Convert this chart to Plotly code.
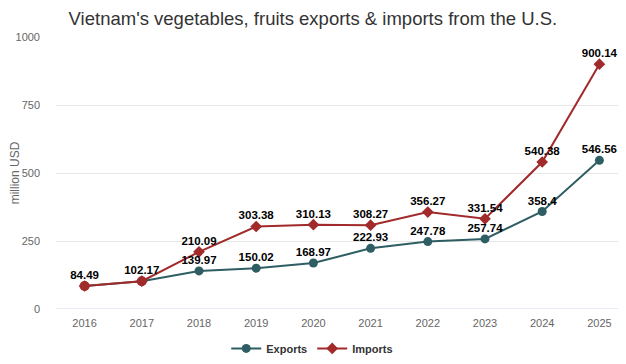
import plotly.graph_objects as go

years = ["2016", "2017", "2018", "2019", "2020", "2021", "2022", "2023", "2024", "2025"]
exports = [84.49, 102.17, 139.97, 150.02, 168.97, 222.93, 247.78, 257.74, 358.4, 546.56]
imports = [84.49, 102.17, 210.09, 303.38, 310.13, 308.27, 356.27, 331.54, 540.38, 900.14]
y_ticks = [0, 250, 500, 750, 1000]

exp_color = "#2e5e63"
imp_color = "#a12a2a"
label_font = dict(family="Liberation Sans, Arial", size=11.5, color="#000000", weight="bold")

exp_text = ["" if e == i else f"{e:g}" for e, i in zip(exports, imports)]
imp_text = [f"{v:g}" for v in imports]
overlap_x = [y for y, e, i in zip(years, exports, imports) if e == i]
overlap_y = [i for e, i in zip(exports, imports) if e == i]

fig = go.Figure()
fig.add_trace(go.Scatter(
    x=years, y=exports, name="Exports", mode="lines+markers",
    line=dict(color=exp_color, width=2),
    marker=dict(color=exp_color, size=9, symbol="circle"),
    cliponaxis=False,
))
fig.add_trace(go.Scatter(
    x=years, y=imports, name="Imports", mode="lines+markers",
    line=dict(color=imp_color, width=2),
    marker=dict(color=imp_color, size=9, symbol="diamond"),
    cliponaxis=False,
))
fig.add_trace(go.Scatter(
    x=overlap_x, y=overlap_y, mode="markers", showlegend=False, hoverinfo="skip",
    marker=dict(color=imp_color, size=10, symbol="circle"),
    cliponaxis=False,
))
for vals, txt in ((exports, exp_text), (imports, imp_text)):
    fig.add_trace(go.Scatter(
        x=years, y=vals, mode="markers+text", showlegend=False, hoverinfo="skip",
        marker=dict(size=5, opacity=0),
        text=txt, textposition="top center", textfont=label_font, cliponaxis=False,
    ))

fig.update_layout(
    width=626, height=364,
    margin=dict(l=48, r=6, t=29, b=63, pad=0, autoexpand=False),
    paper_bgcolor="white", plot_bgcolor="white",
    font=dict(family="Liberation Sans, Arial", size=11, color="#666666"),
    title=dict(text="Vietnam's vegetables, fruits exports & imports from the U.S.",
               x=0.487, xref="container", xanchor="center", y=0.99, yanchor="top",
               pad=dict(t=0, b=0), font=dict(size=18.5, color="#333333")),
    showlegend=True,
    legend=dict(orientation="h", x=0.486, xref="container", xanchor="center",
                y=0.025, yref="container", yanchor="bottom",
                font=dict(size=11, color="#333333", weight="bold"),
                itemwidth=30, tracegroupgap=0),
    xaxis=dict(type="category", range=[-0.5, len(years) - 0.5], autorange=False,
               showgrid=False, showline=False, ticks="", automargin=False,
               ticklabelstandoff=6, tickfont=dict(size=11, color="#666666")),
    yaxis=dict(range=[0, 1000], tickvals=y_ticks, showgrid=True, gridcolor="#e6e6e6",
               zeroline=False, ticks="", ticklabelstandoff=15, automargin=False,
               tickfont=dict(size=11, color="#666666"),
               title=dict(text="million USD", font=dict(size=12, color="#666666"), standoff=0)),
)
fig.add_hline(y=0, line=dict(color="#ccd6eb", width=1))

fig.write_html("out.html")
